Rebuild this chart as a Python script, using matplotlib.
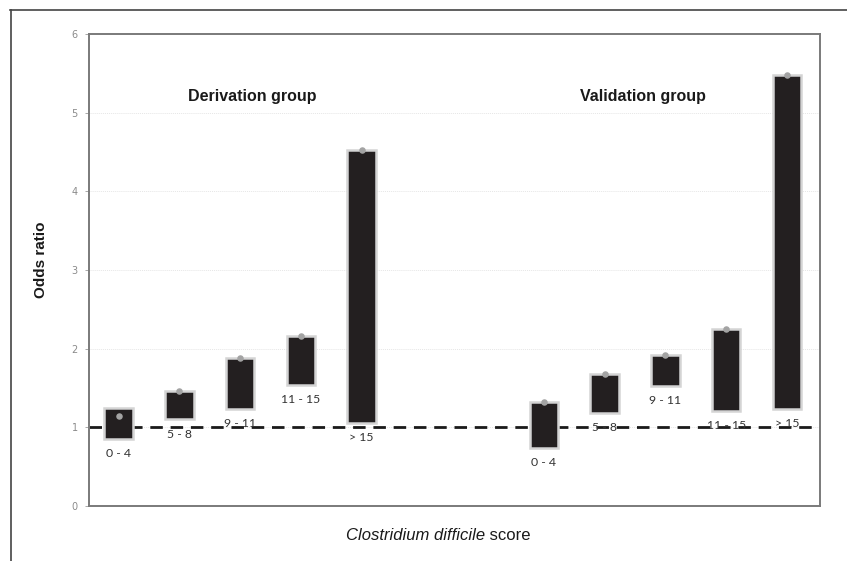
import matplotlib
matplotlib.use("Agg")
import matplotlib.pyplot as plt
from matplotlib.lines import Line2D

# Datos
categories = ["0 - 4", "5 - 8", "9 - 11", "11 - 15", "> 15"]

deriv_low   = [0.85, 1.10, 1.23, 1.54, 1.05]
deriv_high  = [1.24, 1.46, 1.88, 2.16, 4.52]
deriv_point = [1.14, 1.46, 1.88, 2.16, 4.52]

valid_low   = [0.74, 1.18, 1.53, 1.21, 1.23]
valid_high  = [1.32, 1.68, 1.92, 2.25, 5.48]
valid_point = [1.32, 1.68, 1.92, 2.25, 5.48]

deriv_x = [0, 1, 2, 3, 4]
valid_x = [7, 8, 9, 10, 11]

W, H = 847, 561
fig = plt.figure(figsize=(W / 100, H / 100), dpi=100)
ax = fig.add_axes([89 / W, 1 - 506 / H, (819.5 - 89) / W, (506 - 34) / H])

narrow = ["Liberation Sans Narrow", "Liberation Sans", "DejaVu Sans"]
label_font = ["Lato", "DejaVu Sans"]

# rejilla muy suave
for yv in range(1, 6):
    ax.axhline(yv, color="#e6e6e6", lw=0.7, ls=(0, (1, 1)), zorder=0)

ax.axhline(1, color="#1a1a1a", lw=2.0, ls=(0, (4.5, 2.8)), zorder=1)

def draw_group(xs, low, high, point):
    heights = [h - l for h, l in zip(high, low)]
    ax.bar(xs, heights, bottom=low, width=0.47, color="#231f20",
           edgecolor="#d4d4d4", linewidth=1.8, zorder=2)
    ax.scatter(xs, point, s=22, color="#a3a3a3", zorder=3, linewidths=0)
    for x, l, lab in zip(xs, low, categories):
        ax.annotate(lab, xy=(x, l), xytext=(0, -10.5), textcoords="offset points",
                    ha="center", va="center", fontsize=8.8, color="#333333",
                    family=label_font, zorder=4)

draw_group(deriv_x, deriv_low, deriv_high, deriv_point)
draw_group(valid_x, valid_low, valid_high, valid_point)

ax.set_xlim(-0.486, 11.536)
ax.set_ylim(0, 6)
ax.set_xticks([])
ax.set_yticks(range(0, 7))
ax.tick_params(axis="y", length=3, width=0.6, color="#9a9a9a", labelcolor="#8a8a8a",
               labelsize=7, pad=5)
for s in ax.spines.values():
    s.set_color("#7a7a7a")
    s.set_linewidth(1.4)

ax.text(2.2, 5.2, "Derivation group", ha="center", va="center", fontsize=11.5,
        fontweight="bold", family=narrow, color="#1a1a1a")
ax.text(8.63, 5.2, "Validation group", ha="center", va="center", fontsize=11.5,
        fontweight="bold", family=narrow, color="#1a1a1a")

fig.text(41 / W, 1 - 260 / H, "Odds ratio", rotation=90, ha="center", va="center",
         fontsize=11, fontweight="bold", family=narrow, color="#1a1a1a")

t1 = fig.text(346 / W, 1 - 535 / H, "Clostridium difficile", ha="left", va="center",
              fontsize=12, style="italic", family=narrow, color="#1a1a1a")
plt.annotate(" score", xy=(1, 0.5), xycoords=t1, ha="left", va="center",
             fontsize=12, family=narrow, color="#1a1a1a", annotation_clip=False)

# marco exterior
fig.add_artist(Line2D([10 / W, 1], [1 - 10 / H, 1 - 10 / H], color="#444444", lw=1.2))
fig.add_artist(Line2D([10.5 / W, 10.5 / W], [0, 1 - 10 / H], color="#444444", lw=1.2))

fig.savefig("out.png", dpi=100)
